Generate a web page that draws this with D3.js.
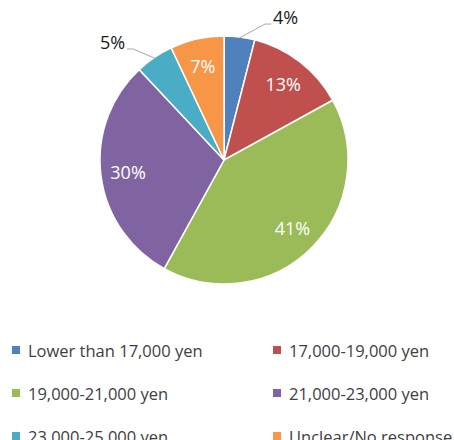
<!DOCTYPE html>
<html>
<head>
<meta charset="utf-8">
<script src="https://cdn.jsdelivr.net/npm/d3@7"></script>
<style>
  body { margin: 0; background: #fff; }
</style>
</head>
<body>
<script>
// data
let categories = ['Lower than 17,000 yen', '17,000-19,000 yen', '19,000-21,000 yen',
                  '21,000-23,000 yen', '23,000-25,000 yen', 'Unclear/No response'];
let values = [4, 13, 41, 30, 5, 7];
let colors = ['#4F81BD', '#C0504D', '#9BBB59', '#8064A2', '#4BACC6', '#F79646'];
let outsideLabel = [true, false, false, false, true, false];

let width = 454, height = 440;
let cx = 224, cy = 160, radius = 124;
let fontFamily = 'Open Sans, sans-serif';

// leader line elbows for outside labels (radius, angle shift in degrees, side)
let leaderLayout = {
    0: { r: 142, shift: 9.6, side: 1 },
    4: { r: 143.5, shift: -5.1, side: -1 }
};

let svg = d3.select('body').append('svg').attr('width', width).attr('height', height);
let chart = svg.append('g').attr('transform', 'translate(' + cx + ',' + cy + ')');

let pie = d3.pie().sort(null).value(d => d);
let arcs = pie(values);
let arc = d3.arc().innerRadius(0).outerRadius(radius);
let labelArc = d3.arc().innerRadius(radius * 0.78).outerRadius(radius * 0.78);

chart.selectAll('path.slice').data(arcs).enter().append('path')
    .attr('class', 'slice')
    .attr('d', arc)
    .attr('fill', (d, i) => colors[i])
    .attr('stroke', '#fff')
    .attr('stroke-width', 1.5);

// inside labels
chart.selectAll('text.inside').data(arcs.filter((d, i) => !outsideLabel[i])).enter().append('text')
    .attr('class', 'inside')
    .attr('x', d => labelArc.centroid(d)[0])
    .attr('y', d => labelArc.centroid(d)[1])
    .attr('text-anchor', 'middle')
    .attr('dominant-baseline', 'central')
    .attr('font-family', fontFamily)
    .attr('font-size', '18px')
    .attr('fill', '#fff')
    .text(d => d.data + '%');

// outside labels with leader lines
let edgeArc = d3.arc().innerRadius(radius - 1).outerRadius(radius - 1);
arcs.forEach((d, i) => {
    if (!outsideLabel[i]) return;
    let lay = leaderLayout[i];
    let mid = (d.startAngle + d.endAngle) / 2 + lay.shift * Math.PI / 180;
    let p0 = edgeArc.centroid(d);
    let p1 = [Math.sin(mid) * lay.r, -Math.cos(mid) * lay.r];
    let p2 = [p1[0] + lay.side * 6, p1[1]];
    chart.append('polyline')
        .attr('points', [p0, p1, p2].map(p => p.join(',')).join(' '))
        .attr('fill', 'none')
        .attr('stroke', '#a6a6a6')
        .attr('stroke-width', 1);
    chart.append('text')
        .attr('x', p2[0] + lay.side * 2)
        .attr('y', p2[1] - 7)
        .attr('text-anchor', lay.side > 0 ? 'start' : 'end')
        .attr('dominant-baseline', 'central')
        .attr('font-family', fontFamily)
        .attr('font-size', '18px')
        .attr('fill', '#1a1a1a')
        .text(d.data + '%');
});

// legend
let legend = svg.append('g');
let legendItems = legend.selectAll('g').data(categories).enter().append('g')
    .attr('transform', (d, i) => 'translate(' + (i % 2 === 0 ? 12 : 273) + ',' + (350 + Math.floor(i / 2) * 43) + ')');
legendItems.append('rect')
    .attr('x', 0).attr('y', -4)
    .attr('width', 8).attr('height', 8)
    .attr('fill', (d, i) => colors[i]);
legendItems.append('text')
    .attr('x', 16)
    .attr('y', 0)
    .attr('dominant-baseline', 'central')
    .attr('font-family', fontFamily)
    .attr('font-size', '16.5px')
    .attr('fill', '#404040')
    .text(d => d);
</script>
</body>
</html>
